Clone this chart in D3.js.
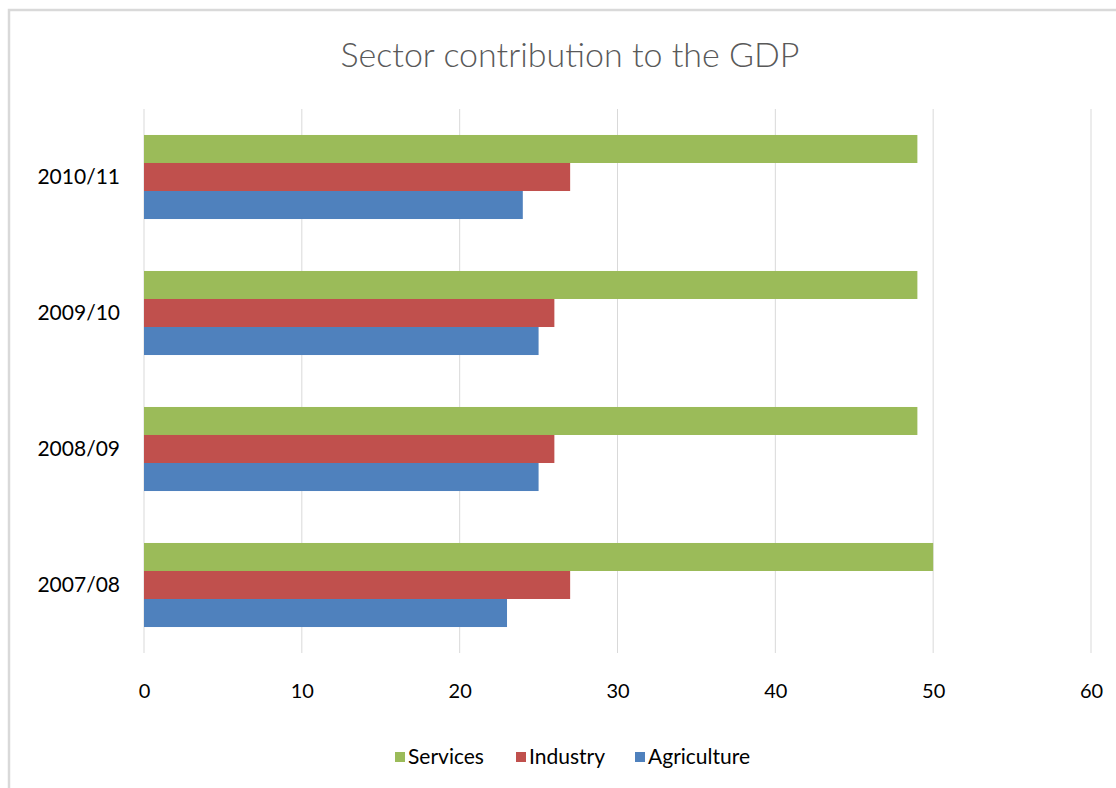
<!DOCTYPE html>
<html>
<head>
<meta charset="utf-8">
<script src="https://cdn.jsdelivr.net/npm/d3@7"></script>
<style>
  body { margin: 0; background: #fff; }
  svg { display: block; font-family: Lato, "Open Sans", sans-serif; }
</style>
</head>
<body>
<div id="chart"></div>
<script>
// chart values
const categories = ["2010/11", "2009/10", "2008/09", "2007/08"];
const seriesNames = ["Services", "Industry", "Agriculture"];
const services = [49, 49, 49, 50];
const industry = [27, 26, 26, 27];
const agriculture = [24, 25, 25, 23];
const xTicks = [0, 10, 20, 30, 40, 50, 60];
const colours = ["#9BBB59", "#C0504D", "#4F81BD"];

const W = 1116, H = 788;
const margin = {left: 144, right: 25, top: 109, bottom: 135};
const width = W - margin.left - margin.right;
const height = H - margin.top - margin.bottom;

const rows = categories.map((c, i) => ({
    cat: c,
    values: [services[i], industry[i], agriculture[i]]
}));

const svg = d3.select("#chart")
    .append("svg")
    .attr("width", W)
    .attr("height", H);

//Outer chart frame (right and bottom edges fall off the picture)
svg.append("rect")
    .attr("x", 9).attr("y", 10)
    .attr("width", W + 20).attr("height", H + 20)
    .attr("fill", "#fff")
    .attr("stroke", "#d9d9d9")
    .attr("stroke-width", 2.5);

svg.append("text")
    .attr("x", 570).attr("y", 67)
    .attr("text-anchor", "middle")
    .attr("font-size", 34)
    .attr("font-weight", 300)
    .attr("fill", "#595959")
    .text("Sector contribution to the GDP");

const g = svg.append("g")
    .attr("transform", "translate(" + margin.left + "," + margin.top + ")");

const xScale = d3.scaleLinear().domain([0, 60]).range([0, width]);

const yScale = d3.scaleBand()
    .domain(categories)
    .range([0, height])
    .paddingInner(0.382)
    .paddingOuter(0.191);

const ySub = d3.scaleBand()
    .domain(seriesNames)
    .range([0, yScale.bandwidth()]);

//Vertical gridlines
g.selectAll("line.xGrid")
    .data(xTicks)
    .join("line")
    .attr("class", "xGrid")
    .attr("x1", d => xScale(d))
    .attr("x2", d => xScale(d))
    .attr("y1", 0)
    .attr("y2", height)
    .attr("stroke", "#d9d9d9")
    .attr("stroke-width", 1);

//Bars
g.selectAll("g.group")
    .data(rows)
    .join("g")
    .attr("class", "group")
    .attr("transform", d => "translate(0," + yScale(d.cat) + ")")
    .selectAll("rect")
    .data(d => d.values.map((v, i) => ({name: seriesNames[i], value: v, i: i})))
    .join("rect")
    .attr("x", xScale(0))
    .attr("y", d => ySub(d.name))
    .attr("width", d => xScale(d.value) - xScale(0))
    .attr("height", ySub.bandwidth())
    .attr("fill", d => colours[d.i]);

//X axis labels
const xAxis = g.append("g")
    .attr("transform", "translate(0," + height + ")")
    .call(d3.axisBottom(xScale).tickValues(xTicks).tickSize(0).tickPadding(31));
xAxis.select(".domain").remove();
xAxis.selectAll("text")
    .attr("font-size", 20)
    .attr("font-family", "Lato, sans-serif")
    .attr("fill", "#000");

//Y axis labels
const yAxis = g.append("g")
    .call(d3.axisLeft(yScale).tickSize(0).tickPadding(24));
yAxis.select(".domain").remove();
yAxis.selectAll("text")
    .attr("font-size", 21)
    .attr("font-family", "Lato, sans-serif")
    .attr("fill", "#000");

//Legend
const legendX = [395, 516, 635];
const legend = svg.selectAll("g.legend")
    .data(seriesNames)
    .join("g")
    .attr("class", "legend")
    .attr("transform", (d, i) => "translate(" + legendX[i] + ",752)");
legend.append("rect")
    .attr("width", 10).attr("height", 10)
    .attr("fill", (d, i) => colours[i]);
legend.append("text")
    .attr("x", 13).attr("y", 12)
    .attr("font-size", 21)
    .attr("fill", "#000")
    .text(d => d);
</script>
</body>
</html>
